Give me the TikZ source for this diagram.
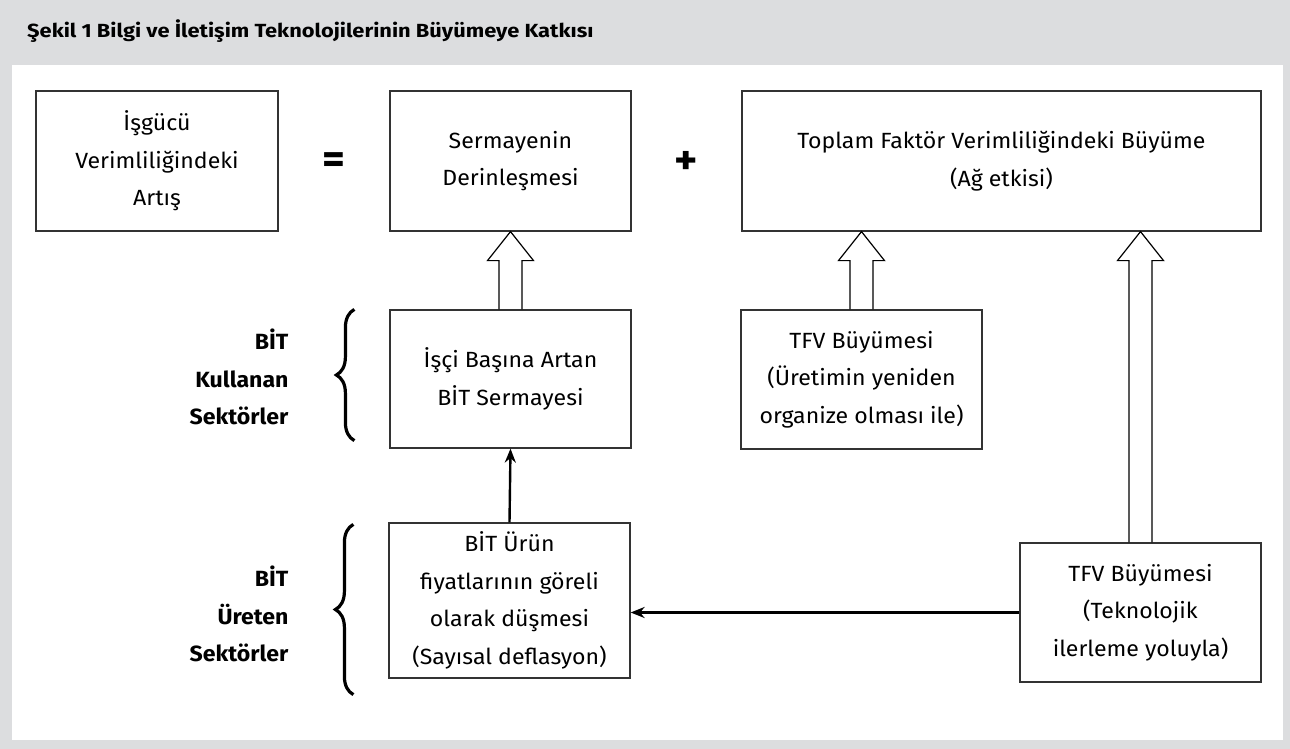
\documentclass[tikz,border=0pt]{standalone}
\usepackage{fontspec}
\setmainfont[FakeStretch=1.05]{Fira Sans}
\newfontfamily\titlefont[FakeStretch=1.15]{Fira Sans}
\usetikzlibrary{arrows.meta,calc,decorations.pathreplacing}
\definecolor{panelgray}{HTML}{DCDDDF}
\definecolor{boxline}{HTML}{333333}
\newcommand{\blockarrow}[2]{%
  \draw[hollow] ($(#1)+(-11.5,0)$) |- ($(#2)+(-23,29)$) -- (#2) -- ($(#2)+(23,29)$) -| ($(#1)+(11.5,0)$);}
\begin{document}
\begin{tikzpicture}[x=1pt, y=-1pt,
  box/.style={draw=boxline, line width=1.2pt, align=center, font=\fontsize{22}{37.5}\selectfont, minimum width=241pt, minimum height=139pt},
  sector/.style={align=right, anchor=east, font=\fontsize{22}{37.5}\selectfont\bfseries},
  sign/.style={font=\fontsize{42}{42}\selectfont\bfseries},
  hollow/.style={draw=black, line width=1.2pt, line join=miter},
  flow/.style={line width=2.4pt, -{Stealth[length=14pt,width=11pt]}},
  curly/.style={decorate, decoration={brace, amplitude=18pt}, line width=3.2pt}]
	%frame
	\useasboundingbox (0,0) rectangle (1290,749);
	\fill[panelgray] (0,0) rectangle (1290,749);
	\fill[white] (12,65) rectangle (1283,740);
	\node[anchor=base west, inner sep=0pt, font=\fontsize{19}{19}\selectfont\titlefont\bfseries] (title) at (27,38) {Şekil 1 Bilgi ve İletişim Teknolojilerinin Büyümeye Katkısı};
	
	%top row
	\node[box, minimum width=242pt, minimum height=140pt] (labor) at (157,161) {İşgücü\\Verimliliğindeki\\Artış};
	\node[sign] (eq) at (334,163) {=};
	\node[box, minimum height=140pt] (deep) at (510.5,161) {Sermayenin\\Derinleşmesi};
	\node[sign] (plus) at (686,163) {+};
	\node[box, minimum width=519pt, minimum height=140pt] (tfp) at (1001.5,161) {Toplam Faktör Verimliliğindeki Büyüme\\(Ağ etkisi)};
	
	%middle row
	\node[box, minimum height=138pt] (capital) at (510.5,379) {İşçi Başına Artan\\BİT Sermayesi};
	\node[box] (reorg) at (861.5,379.5) {TFV Büyümesi\\(Üretimin yeniden\\organize olması ile)};
	\node[sector] (users) at (292,377) {BİT\\Kullanan\\Sektörler};
	
	%bottom row
	\node[box, minimum height=155pt] (prices) at (509.5,600.5) {BİT Ürün\\fiyatlarının göreli\\olarak düşmesi\\(Sayısal deflasyon)};
	\node[box] (tech) at (1140.5,612.5) {TFV Büyümesi\\(Teknolojik\\ilerleme yoluyla)};
	\node[sector] (makers) at (292,614) {BİT\\Üreten\\Sektörler};
	
	%braces
	\draw[curly] ([shift={(-35,-8)}]capital.south west) -- ([shift={(-35,0)}]capital.north west);
	\draw[curly] ([shift={(-35,16)}]prices.south west) -- ([shift={(-35,2)}]prices.north west);
	
	%arrows
	\blockarrow{capital.north}{deep.south}
	\blockarrow{reorg.north}{tfp.south -| reorg.north}
	\blockarrow{tech.north}{tfp.south -| tech.north}
	\draw[flow] (prices.north) -- (capital.south);
	\draw[flow] (tech.west) -- (prices.east |- tech.west);
\end{tikzpicture}
\end{document}
